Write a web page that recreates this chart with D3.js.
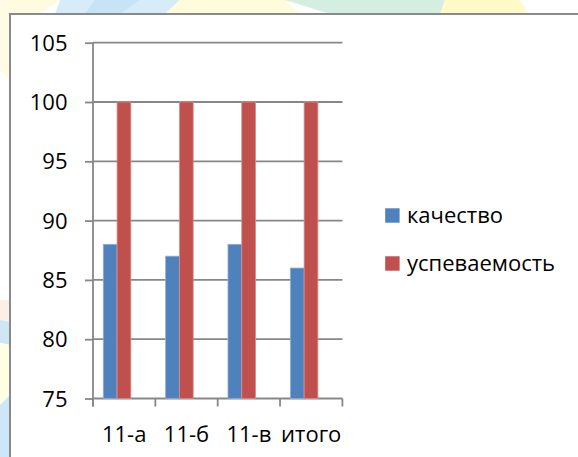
<!DOCTYPE html>
<html>
<head>
<meta charset="utf-8">
<script src="https://cdn.jsdelivr.net/npm/d3@7"></script>
<style>
  html, body { margin: 0; padding: 0; background: #ffffff; }
  svg { display: block; }
  text { font-family: "Open Sans", "Noto Sans", sans-serif; fill: #000; }
</style>
</head>
<body>
<svg id="chart" width="578" height="457"></svg>
<script>
// ---- data ----
const categories = ["11-а", "11-б", "11-в", "итого"];
const seriesNames = ["качество", "успеваемость"];
const kachestvo = [88, 87, 88, 86];
const uspevaemost = [100, 100, 100, 100];
const yTicks = [75, 80, 85, 90, 95, 100, 105];
const colors = ["#4f81bd", "#c0504d"];

const svg = d3.select("#chart");

// ---- decorative background (outside the chart frame) ----
const bg = svg.append("g");
const bgShapes = [
  {pts: [[0,0],[60,0],[40,14],[0,14]], c: "#fffbe0"},
  {pts: [[60,0],[180,0],[165,14],[55,14]], c: "#d6ecf8"},
  {pts: [[95,0],[140,0],[120,14],[85,14]], c: "#c6e4f6"},
  {pts: [[180,0],[285,0],[300,14],[165,14]], c: "#fffcdc"},
  {pts: [[285,0],[445,0],[440,14],[330,14]], c: "#d4efe1"},
  {pts: [[445,0],[520,0],[528,14],[440,14]], c: "#fffac8"},
  {pts: [[0,0],[10,0],[10,80],[0,70]], c: "#fffbe4"},
  {pts: [[0,300],[10,300],[10,322],[0,320]], c: "#fbefe8"},
  {pts: [[0,320],[10,322],[10,345],[0,343]], c: "#cfe6f5"},
  {pts: [[0,343],[10,345],[10,395],[0,405]], c: "#fffde2"},
  {pts: [[0,405],[10,395],[10,457],[0,457]], c: "#cde7f8"}
];
bg.selectAll("polygon").data(bgShapes).join("polygon")
  .attr("points", d => d.pts.map(p => p.join(",")).join(" "))
  .attr("fill", d => d.c);

// ---- chart frame ----
svg.append("rect")
  .attr("x", 10).attr("y", 14)
  .attr("width", 620).attr("height", 500)
  .attr("fill", "#ffffff")
  .attr("stroke", "#8a8a8a").attr("stroke-width", 2);

// ---- scales ----
const plotLeft = 93, plotRight = 342.4, plotTop = 42.7, plotBottom = 398.5;
const x = d3.scaleBand().domain(categories).range([plotLeft, plotRight]).padding(0);
const bw = x.bandwidth();
const xs = d3.scaleBand().domain(seriesNames)
  .range([bw * 0.165, bw * 0.607]).padding(0);
const y = d3.scaleLinear().domain([75, 105]).range([plotBottom, plotTop]);

const gridColor = "#878787";

// ---- gridlines + y axis ----
const yAxis = d3.axisLeft(y).tickValues(yTicks).tickSize(8).tickPadding(0).tickFormat(d3.format("d"));
const gy = svg.append("g").attr("transform", `translate(${plotLeft},0)`).call(yAxis);
gy.select(".domain").remove();
gy.selectAll(".tick line").attr("stroke", gridColor).attr("stroke-width", 1.8);
gy.selectAll(".tick text").remove();

svg.append("g").selectAll("line").data(yTicks).join("line")
  .attr("x1", plotLeft).attr("x2", plotRight)
  .attr("y1", d => y(d)).attr("y2", d => y(d))
  .attr("stroke", gridColor).attr("stroke-width", 1.8);

svg.append("g").selectAll("text").data(yTicks).join("text")
  .attr("x", 67.5).attr("y", d => y(d) + 8)
  .attr("text-anchor", "end")
  .style("font-size", "22px")
  .text(d => d);

// ---- bars ----
const data = categories.map((c, i) => ({cat: c, vals: [kachestvo[i], uspevaemost[i]]}));
const groups = svg.append("g").selectAll("g").data(data).join("g")
  .attr("transform", d => `translate(${x(d.cat)},0)`);
groups.selectAll("rect").data(d => d.vals.map((v, j) => ({name: seriesNames[j], v, j})))
  .join("rect")
  .attr("x", d => xs(d.name))
  .attr("width", xs.bandwidth())
  .attr("y", d => y(d.v))
  .attr("height", d => y(75) - y(d.v))
  .attr("fill", d => colors[d.j])
  .attr("stroke", d => d.j === 0 ? "#8db0dc" : "#dc8d8b")
  .attr("stroke-width", 0.8);

// ---- x axis ----
const xAxis = d3.axisBottom(x).tickSize(0).tickFormat("");
const gx = svg.append("g").attr("transform", `translate(0,${plotBottom})`).call(xAxis);
gx.select(".domain").remove();
svg.append("line")
  .attr("x1", plotLeft).attr("x2", plotLeft)
  .attr("y1", plotTop).attr("y2", plotBottom + 8)
  .attr("stroke", gridColor).attr("stroke-width", 1.8);
const tickXs = categories.map(c => x(c)).concat([plotRight]);
svg.append("g").selectAll("line").data(tickXs).join("line")
  .attr("x1", d => d).attr("x2", d => d)
  .attr("y1", plotBottom).attr("y2", plotBottom + 8)
  .attr("stroke", gridColor).attr("stroke-width", 1.8);
svg.append("g").selectAll("text").data(categories).join("text")
  .attr("x", d => x(d) + bw / 2).attr("y", 441.5)
  .attr("text-anchor", "middle")
  .style("font-size", "22px")
  .text(d => d);

// ---- legend ----
const legend = svg.append("g");
const legY = [208.3, 256.3];
seriesNames.forEach((n, i) => {
  legend.append("rect")
    .attr("x", 385.2).attr("y", legY[i])
    .attr("width", 14.4).attr("height", 14.4)
    .attr("fill", colors[i]);
  legend.append("text")
    .attr("x", 407).attr("y", legY[i] + 14.6)
    .style("font-size", "22px")
    .text(n);
});
</script>
</body>
</html>
